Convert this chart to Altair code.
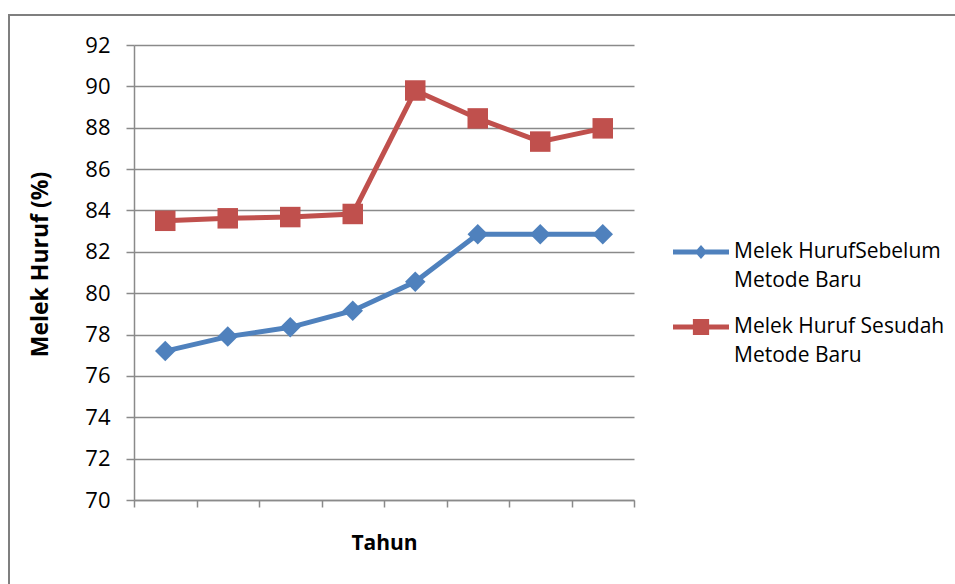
import altair as alt
import pandas as pd

# Titik pengamatan (tahun ke-1 .. ke-8) dan persentase melek huruf
titik = [1, 2, 3, 4, 5, 6, 7, 8]
sebelum = [77.2, 77.9, 78.35, 79.15, 80.55, 82.85, 82.85, 82.85]
sesudah = [83.5, 83.62, 83.68, 83.83, 89.8, 88.45, 87.33, 87.97]
seri = ["Melek HurufSebelum\nMetode Baru", "Melek Huruf Sesudah\nMetode Baru"]
y_ticks = [70, 72, 74, 76, 78, 80, 82, 84, 86, 88, 90, 92]
x_batas = [0.5, 1.5, 2.5, 3.5, 4.5, 5.5, 6.5, 7.5, 8.5]

df = pd.DataFrame({
    "titik": titik * 2,
    "nilai": sebelum + sesudah,
    "seri": [seri[0]] * len(titik) + [seri[1]] * len(titik),
})

FONT = "Open Sans"
GRID = "#8a8a8a"
warna = alt.Scale(domain=seri, range=["#4f81bd", "#c0504d"])

# legend symbols: a short thick line with the marker on top
diamond_leg = "M-1,-0.089L1,-0.089L1,0.089L-1,0.089Z M0,-0.25L0.22,0L0,0.25L-0.22,0Z"
square_leg = "M-1,-0.089L1,-0.089L1,0.089L-1,0.089Z M-0.29,-0.29L0.29,-0.29L0.29,0.29L-0.29,0.29Z"

x_enc = alt.X(
    "titik:Q",
    scale=alt.Scale(domain=[0.5, 8.5], nice=False, zero=False),
    axis=alt.Axis(
        values=x_batas, labels=False, grid=False, tickSize=7,
        tickColor=GRID, tickWidth=1.5, domainColor=GRID, domainWidth=1.5,
        title="Tahun", titleFont=FONT, titleFontSize=21, titleFontWeight="bold",
        titleColor="black", titlePadding=25,
    ),
)
y_enc = alt.Y(
    "nilai:Q",
    scale=alt.Scale(domain=[70, 92], nice=False, zero=False),
    axis=alt.Axis(
        values=y_ticks, grid=True, gridColor=GRID, gridWidth=1.5,
        tickSize=8, tickColor=GRID, tickWidth=1.5, domainColor=GRID, domainWidth=1.5,
        labelFont=FONT, labelFontSize=22, labelColor="black", labelPadding=16,
        title="Melek Huruf (%)", titleFont=FONT, titleFontSize=23,
        titleFontWeight="bold", titleColor="black",
        titleX=-82, titleY=219,
    ),
)

base = alt.Chart(df).encode(x=x_enc, y=y_enc)

garis = base.mark_line(strokeWidth=5).encode(
    color=alt.Color("seri:N", scale=warna, legend=None)
)

titik_mark = base.mark_point(filled=True, size=420, opacity=1, strokeWidth=0).encode(
    color=alt.Color("seri:N", scale=warna, legend=None),
    shape=alt.Shape("seri:N", scale=alt.Scale(domain=seri, range=["diamond", "square"]), legend=None),
)

leg = alt.Legend(
    title=None, orient="none", legendX=539, legendY=179, padding=0,
    symbolSize=3136, symbolOpacity=1, symbolStrokeWidth=0,
    labelFont=FONT, labelFontSize=21, labelColor="black", labelLimit=400,
    labelOffset=5, rowPadding=8, labelExpr="split(datum.label, '\\n')",
)
legenda = base.mark_point(filled=True, opacity=0, size=10).encode(
    color=alt.Color("seri:N", scale=warna, legend=leg),
    shape=alt.Shape("seri:N", scale=alt.Scale(domain=seri, range=[diamond_leg, square_leg]), legend=leg),
)

# outer frame of the chart area
bingkai = alt.Chart(pd.DataFrame({"k": [0]})).mark_rect(
    fillOpacity=0, stroke="#7f7f7f", strokeWidth=2
).encode(
    x=alt.value(-125), x2=alt.value(1000), y=alt.value(-30), y2=alt.value(700)
)

chart = alt.layer(bingkai, garis, titik_mark, legenda).resolve_scale(
    shape="independent"
).resolve_legend(
    color="independent", shape="independent"
).properties(
    width=500, height=455,
    autosize=alt.AutoSizeParams(type="none"),
    padding={"left": 134, "top": 45, "right": 321, "bottom": 84},
    background="white",
).configure(
    style={"guide-label": {"lineHeight": 29}},
    view=alt.ViewConfig(strokeOpacity=0),
)

chart.save("out.html", embed_options={"renderer": "svg", "actions": False})
